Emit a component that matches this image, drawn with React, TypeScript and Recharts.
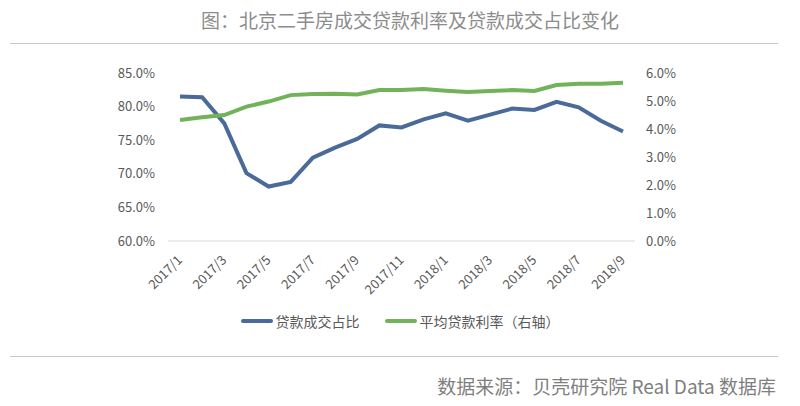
import { Line, LineChart, XAxis, YAxis } from "recharts";

const MONTHS = [
  "2017/1", "2017/2", "2017/3", "2017/4", "2017/5", "2017/6", "2017/7",
  "2017/8", "2017/9", "2017/10", "2017/11", "2017/12", "2018/1", "2018/2",
  "2018/3", "2018/4", "2018/5", "2018/6", "2018/7", "2018/8", "2018/9",
];

// 贷款成交占比 (%)
const LOAN_SHARE = [
  81.5, 81.4, 77.5, 70.1, 68.1, 68.8, 72.4, 73.9, 75.2, 77.2, 76.9,
  78.1, 79.0, 77.9, 78.8, 79.7, 79.5, 80.7, 79.9, 77.9, 76.3,
];

// 平均贷款利率 (%, 右轴)
const AVG_RATE = [
  4.32, 4.42, 4.5, 4.8, 4.98, 5.21, 5.25, 5.26, 5.23, 5.39, 5.39,
  5.43, 5.37, 5.32, 5.36, 5.39, 5.36, 5.57, 5.62, 5.62, 5.65,
];

const LEFT_TICKS = [60, 65, 70, 75, 80, 85];
const RIGHT_TICKS = [0, 1, 2, 3, 4, 5, 6];

const BLUE = "#4a6b99";
const GREEN = "#72b35a";
const FONT = '"Noto Sans CJK SC", "Noto Sans", sans-serif';

const data = MONTHS.map((m, i) => ({ month: m, share: LOAN_SHARE[i], rate: AVG_RATE[i] }));

const legendItems = [
  { label: "贷款成交占比", color: BLUE },
  { label: "平均贷款利率（右轴）", color: GREEN },
];

function MonthTick({ x, y, payload }: any) {
  const tx = x + 3;
  const ty = y + 12;
  return (
    <text
      x={tx}
      y={ty}
      textAnchor="end"
      fontSize={13}
      fill="#595959"
      fontFamily={FONT}
      transform={`rotate(-45, ${tx}, ${ty})`}
    >
      {payload.value}
    </text>
  );
}

export default function App() {
  return (
    <div style={{ position: "absolute", left: 0, top: 0, width: 800, height: 406, background: "#fff", fontFamily: FONT }}>
      <div style={{ position: "absolute", top: 6, left: 10, width: 800, textAlign: "center", fontSize: 19, color: "#8c8c8c" }}>
        图：北京二手房成交贷款利率及贷款成交占比变化
      </div>
      <div style={{ position: "absolute", top: 43, left: 10, width: 768, height: 1, background: "#c8c8c8" }} />
      <div style={{ position: "absolute", top: 0, left: 0 }}>
        <LineChart width={800} height={406} data={data} margin={{ top: 73, right: 0, left: 0, bottom: 115 }}>
          <XAxis
            dataKey="month"
            interval={1}
            tick={<MonthTick />}
            tickLine={false}
            axisLine={{ stroke: "#d9d9d9" }}
            padding={{ left: 12, right: 12 }}
            height={50}
          />
          <YAxis
            yAxisId="left"
            domain={[60, 85]}
            ticks={LEFT_TICKS}
            width={168}
            axisLine={false}
            tickLine={false}
            tickMargin={7}
            tick={{ fontSize: 13, fill: "#595959", fontFamily: FONT }}
            tickFormatter={(v) => `${v.toFixed(1)}%`}
          />
          <YAxis
            yAxisId="right"
            orientation="right"
            domain={[0, 6]}
            ticks={RIGHT_TICKS}
            width={165}
            axisLine={false}
            tickLine={false}
            tickMargin={5}
            tick={{ fontSize: 13, fill: "#595959", fontFamily: FONT, textAnchor: "start" }}
            tickFormatter={(v) => `${v.toFixed(1)}%`}
          />
          <Line yAxisId="left" type="linear" dataKey="share" name="贷款成交占比" stroke={BLUE} strokeWidth={4} dot={false} isAnimationActive={false} />
          <Line yAxisId="right" type="linear" dataKey="rate" name="平均贷款利率（右轴）" stroke={GREEN} strokeWidth={4} dot={false} isAnimationActive={false} />
        </LineChart>
      </div>
      <div
        style={{
          position: "absolute",
          top: 311,
          left: 0,
          width: 800,
          display: "flex",
          justifyContent: "center",
          gap: 25,
          fontSize: 14,
          color: "#595959",
        }}
      >
        {legendItems.map((it) => (
          <div key={it.label} style={{ display: "flex", alignItems: "center" }}>
            <span style={{ display: "inline-block", width: 32, height: 4, background: it.color, borderRadius: 2, marginRight: 3 }} />
            <span>{it.label}</span>
          </div>
        ))}
      </div>
      <div style={{ position: "absolute", top: 356, left: 10, width: 768, height: 1, background: "#c8c8c8" }} />
      <div style={{ position: "absolute", top: 372, right: 24, fontSize: 19, color: "#7f7f7f" }}>
        数据来源：贝壳研究院 Real Data 数据库
      </div>
    </div>
  );
}
